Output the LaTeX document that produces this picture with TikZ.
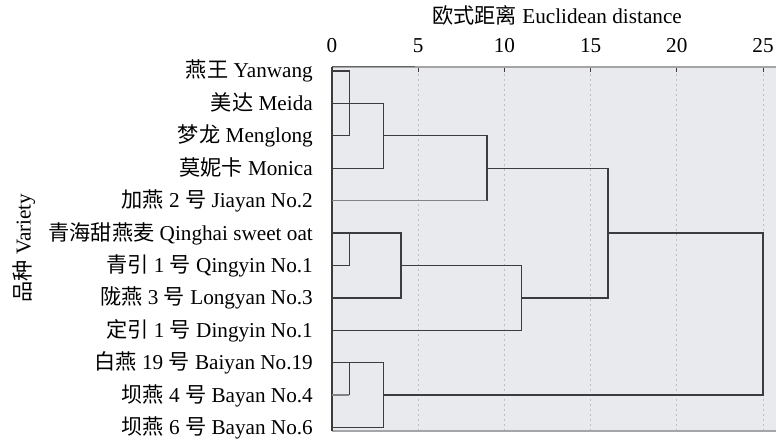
\documentclass[tikz,border=0pt]{standalone}
\usepackage{fontspec}
\setmainfont{Liberation Serif}
\newfontfamily\cjk{Noto Sans CJK SC}
\definecolor{plotbg}{RGB}{233,234,237}
\definecolor{gridc}{RGB}{190,190,192}
\definecolor{linec}{RGB}{60,60,62}
\definecolor{lightlinec}{RGB}{130,130,132}
\definecolor{borderc}{RGB}{165,165,168}
\begin{document}
\begin{tikzpicture}[x=1pt,y=-1pt,
  lbl/.style={anchor=base east,inner sep=0pt,font=\fontsize{21.2}{24}\selectfont},
  ticklbl/.style={anchor=center,inner sep=0pt,font=\fontsize{21.2}{24}\selectfont},
  dendro/.style={draw=linec,line width=1.4pt,line join=miter},
  dendrolight/.style={draw=lightlinec,line width=1.2pt},
  gridline/.style={draw=gridc,line width=1pt,dash pattern=on 2pt off 3pt},
  tickmark/.style={draw=linec,line width=1pt}]
\useasboundingbox (0,0) rectangle (776,441);
% plot area
\fill[plotbg] (332,67) rectangle (776,431);
\foreach \k in {1,...,5}{
  \draw[gridline] ({332+86.2*\k},69) -- ({332+86.2*\k},431);
  \draw[tickmark] ({332+86.2*\k},67) -- ({332+86.2*\k},72);
}
\draw[borderc,line width=1.3pt] (332,67) -- (776,67);
\draw[linec!80,line width=1pt] (332,67) -- (415,67);
\draw[borderc,line width=1.2pt] (332,431) -- (776,431);
\draw[linec,line width=1.3pt] (332,67) -- (332,431);
% axis title and tick labels
\node[ticklbl] (title) at (557,15) {{\cjk 欧式距离} Euclidean distance};
\foreach \k/\v in {0/0,1/5,2/10,3/15,4/20,5/25}{
  \node[ticklbl] (t\k) at ({332+86.2*\k},46) {\v};
}
\node[ticklbl,rotate=90] (ylab) at (24,248) {{\cjk 品种} Variety};
% leaf labels
\foreach \i/\t in {
  0/{{\cjk 燕王} Yanwang},
  1/{{\cjk 美达} Meida},
  2/{{\cjk 梦龙} Menglong},
  3/{{\cjk 莫妮卡} Monica},
  4/{{\cjk 加燕} 2 {\cjk 号} Jiayan No.2},
  5/{{\cjk 青海甜燕麦} Qinghai sweet oat},
  6/{{\cjk 青引} 1 {\cjk 号} Qingyin No.1},
  7/{{\cjk 陇燕} 3 {\cjk 号} Longyan No.3},
  8/{{\cjk 定引} 1 {\cjk 号} Dingyin No.1},
  9/{{\cjk 白燕} 19 {\cjk 号} Baiyan No.19},
  10/{{\cjk 坝燕} 4 {\cjk 号} Bayan No.4},
  11/{{\cjk 坝燕} 6 {\cjk 号} Bayan No.6}}{
  \node[lbl] (l\i) at (313,{71+32.4*\i+7}) {\t};
}
% dendrogram: x = distance, y = row
\begin{scope}[shift={(332pt,-71pt)},x=17.24pt,y=-32.4pt]
  % Yanwang, Meida, Menglong, Monica
  \draw[dendro] (0,0) -- (1,0) -- (1,2) -- (0,2);
  \draw[dendro] (0,1) -- (3,1) -- (3,3) -- (0,3);
  \draw[dendro] (3,2) -- (9,2) -- (9,4);
  \draw[dendrolight] (9,4) -- (0,4);
  \draw[dendro] (9,3) -- (16,3) -- (16,7) -- (11,7);
  % Qinghai, Qingyin, Longyan, Dingyin
  \draw[dendro] (0,5) -- (4,5) -- (4,7) -- (0,7);
  \draw[dendro] (1,5) -- (1,6) -- (0,6);
  \draw[dendro] (4,6) -- (11,6) -- (11,8) -- (0,8);
  % top-level merge
  \draw[dendro] (16,5) -- (25,5) -- (25,10) -- (3,10);
  % Baiyan, Bayan 4, Bayan 6
  \draw[dendro] (0,9) -- (3,9) -- (3,11) -- (0,11);
  \draw[dendro] (1,9) -- (1,10);
  \draw[dendrolight] (1,10) -- (0,10);
\end{scope}
\end{tikzpicture}
\end{document}
